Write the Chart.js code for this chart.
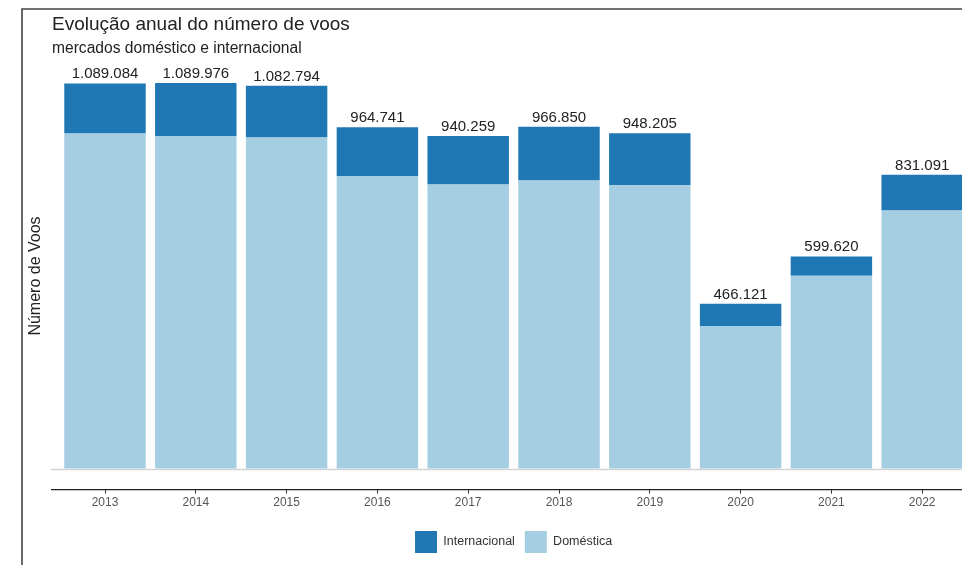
<!DOCTYPE html>
<html>
<head>
<meta charset="utf-8">
<script src="https://cdn.jsdelivr.net/npm/chart.js@4.4.1/dist/chart.umd.min.js"></script>
<style>
  html, body { margin: 0; padding: 0; background: #fff; overflow: hidden; }
  #wrap { position: absolute; left: 0; top: 0; width: 972px; height: 565px; }
</style>
</head>
<body>
<div id="wrap"><canvas id="voos" width="972" height="565"></canvas></div>
<script>
// dados
var anos = ['2013', '2014', '2015', '2016', '2017', '2018', '2019', '2020', '2021', '2022'];
var domestica = [947200, 940400, 935800, 826900, 803300, 814600, 801300, 403100, 545000, 729500];
var internacional = [141884, 149576, 146994, 137841, 136959, 152250, 146905, 63021, 54620, 101591];
var totais = [1089084, 1089976, 1082794, 964741, 940259, 966850, 948205, 466121, 599620, 831091];

var FONT = 'Liberation Sans, Arial, Helvetica, sans-serif';

function fmtNum(n) {
    return String(n).replace(/\B(?=(\d{3})+(?!\d))/g, '.');
}

var decoracao = {
    id: 'decoracao',
    beforeDraw: function(chart) {
        var ctx = chart.ctx;
        var y = chart.scales.y;
        ctx.save();
        // moldura
        ctx.strokeStyle = '#444';
        ctx.lineWidth = 1.6;
        ctx.beginPath();
        ctx.moveTo(22, 565);
        ctx.lineTo(22, 9);
        ctx.lineTo(chart.width, 9);
        ctx.stroke();
        // linha do zero
        var y0 = Math.round(y.getPixelForValue(0)) + 0.5;
        ctx.strokeStyle = '#d4d4d4';
        ctx.lineWidth = 1.5;
        ctx.beginPath();
        ctx.moveTo(51, y0);
        ctx.lineTo(chart.width, y0);
        ctx.stroke();
        // eixo x
        var yb = chart.chartArea.bottom;
        ctx.strokeStyle = '#222';
        ctx.lineWidth = 1.4;
        ctx.beginPath();
        ctx.moveTo(51, yb);
        ctx.lineTo(chart.width, yb);
        ctx.stroke();
        // títulos
        ctx.fillStyle = '#222';
        ctx.textAlign = 'left';
        ctx.textBaseline = 'alphabetic';
        ctx.font = '19px ' + FONT;
        ctx.fillText('Evolução anual do número de voos', 52, 30);
        ctx.font = '15.6px ' + FONT;
        ctx.fillText('mercados doméstico e internacional', 52, 53);
        // título do eixo y
        ctx.translate(36, 276);
        ctx.rotate(-Math.PI / 2);
        ctx.textAlign = 'center';
        ctx.textBaseline = 'middle';
        ctx.font = '16px ' + FONT;
        ctx.fillText('Número de Voos', 0, 0);
        ctx.restore();
    },
    afterDatasetsDraw: function(chart) {
        var ctx = chart.ctx;
        var meta = chart.getDatasetMeta(1);
        ctx.save();
        ctx.fillStyle = '#222';
        ctx.font = '15px ' + FONT;
        ctx.textAlign = 'center';
        ctx.textBaseline = 'alphabetic';
        meta.data.forEach(function(bar, i) {
            ctx.fillText(fmtNum(totais[i]), bar.x, bar.y - 5);
        });
        ctx.restore();
    }
};

new Chart(document.getElementById('voos'), {
    type: 'bar',
    data: {
        labels: anos,
        datasets: [
            {
                label: 'Doméstica',
                data: domestica,
                backgroundColor: '#a6cee3',
                borderWidth: 0
            },
            {
                label: 'Internacional',
                data: internacional,
                backgroundColor: '#1f78b4',
                borderWidth: 0
            }
        ]
    },
    options: {
        responsive: false,
        animation: false,
        datasets: { bar: { barPercentage: 0.897, categoryPercentage: 1 } },
        layout: { padding: { left: 59.6, right: 4.4, top: 60, bottom: 2 } },
        plugins: {
            tooltip: { enabled: false },
            legend: {
                position: 'bottom',
                reverse: true,
                labels: {
                    boxWidth: 22,
                    boxHeight: 22,
                    padding: 10,
                    color: '#333',
                    font: { family: FONT, size: 12.5 }
                }
            }
        },
        scales: {
            x: {
                stacked: true,
                border: { display: false },
                afterFit: function(scale) { scale.height += 9; },
                grid: {
                    offset: false,
                    drawOnChartArea: false,
                    drawTicks: true,
                    tickLength: 4,
                    tickColor: '#333'
                },
                ticks: {
                    padding: 2,
                    color: '#555',
                    font: { family: FONT, size: 12 }
                }
            },
            y: {
                stacked: true,
                display: false,
                min: -59608,
                max: 1155266
            }
        }
    },
    plugins: [decoracao]
});
</script>
</body>
</html>
